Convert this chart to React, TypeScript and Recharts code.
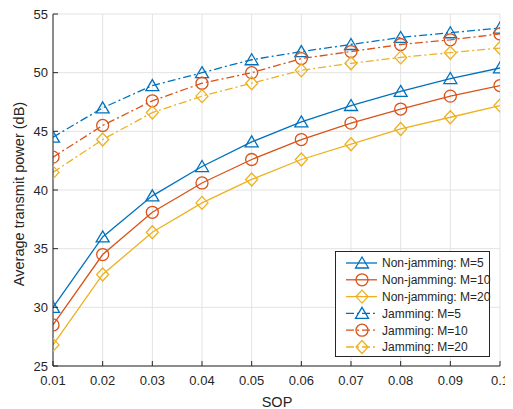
import { LineChart, Line, XAxis, YAxis, CartesianGrid, Label } from 'recharts';

const sop = [0.01, 0.02, 0.03, 0.04, 0.05, 0.06, 0.07, 0.08, 0.09, 0.1];
const xTickLabels = ['0.01', '0.02', '0.03', '0.04', '0.05', '0.06', '0.07', '0.08', '0.09', '0.1'];
const yTicks = [25, 30, 35, 40, 45, 50, 55];

const nonJamM5 = [30.0, 36.0, 39.5, 42.0, 44.1, 45.8, 47.2, 48.4, 49.5, 50.4];
const nonJamM10 = [28.5, 34.5, 38.1, 40.6, 42.6, 44.3, 45.7, 46.9, 48.0, 48.9];
const nonJamM20 = [26.8, 32.8, 36.4, 38.9, 40.9, 42.6, 43.9, 45.2, 46.2, 47.2];
const jamM5 = [44.5, 47.0, 48.9, 50.0, 51.1, 51.8, 52.4, 53.0, 53.4, 53.8];
const jamM10 = [42.8, 45.5, 47.6, 49.1, 50.0, 51.2, 51.8, 52.4, 52.8, 53.3];
const jamM20 = [41.5, 44.3, 46.6, 48.0, 49.1, 50.2, 50.8, 51.3, 51.7, 52.1];

const BLUE = '#0072BD';
const RED = '#D95319';
const YELLOW = '#EDB120';
const AXIS = '#262626';
const FONT = '"Liberation Sans", Arial, Helvetica, sans-serif';
const DASHDOT = '8 3 2 3';

const data = sop.map((s, i) => ({
  sop: s,
  nj5: nonJamM5[i],
  nj10: nonJamM10[i],
  nj20: nonJamM20[i],
  j5: jamM5[i],
  j10: jamM10[i],
  j20: jamM20[i],
}));

type Shape = 'tri' | 'circ' | 'dia';

function Marker({ cx, cy, shape, color }: { cx: number; cy: number; shape: Shape; color: string }) {
  if (shape === 'tri') {
    return (
      <polygon
        points={`${cx},${cy - 6} ${cx + 6.5},${cy + 5} ${cx - 6.5},${cy + 5}`}
        fill="none"
        stroke={color}
        strokeWidth={1.3}
      />
    );
  }
  if (shape === 'circ') {
    return <circle cx={cx} cy={cy} r={6} fill="none" stroke={color} strokeWidth={1.3} />;
  }
  return (
    <polygon
      points={`${cx},${cy - 6.5} ${cx + 6},${cy} ${cx},${cy + 6.5} ${cx - 6},${cy}`}
      fill="none"
      stroke={color}
      strokeWidth={1.3}
    />
  );
}

const makeDot = (shape: Shape, color: string) => (props: any) => (
  <Marker key={`${shape}-${color}-${props.index}`} cx={props.cx} cy={props.cy} shape={shape} color={color} />
);

const series = [
  { key: 'nj5', name: 'Non-jamming: M=5', color: BLUE, shape: 'tri' as Shape, dash: undefined },
  { key: 'nj10', name: 'Non-jamming: M=10', color: RED, shape: 'circ' as Shape, dash: undefined },
  { key: 'nj20', name: 'Non-jamming: M=20', color: YELLOW, shape: 'dia' as Shape, dash: undefined },
  { key: 'j5', name: 'Jamming: M=5', color: BLUE, shape: 'tri' as Shape, dash: DASHDOT },
  { key: 'j10', name: 'Jamming: M=10', color: RED, shape: 'circ' as Shape, dash: DASHDOT },
  { key: 'j20', name: 'Jamming: M=20', color: YELLOW, shape: 'dia' as Shape, dash: DASHDOT },
];

const BottomTick = ({ x, y, index }: any) => (
  <g>
    <line x1={x} x2={x} y1={y} y2={y - 5} stroke={AXIS} />
    <text x={x} y={y + 19} textAnchor="middle" fill={AXIS} fontSize={13} fontFamily={FONT}>
      {xTickLabels[index]}
    </text>
  </g>
);

const TopTick = ({ x, y }: any) => <line x1={x} x2={x} y1={y} y2={y + 5} stroke={AXIS} />;

const LeftTick = ({ x, y, payload }: any) => (
  <g>
    <line x1={x} x2={x + 5} y1={y} y2={y} stroke={AXIS} />
    <text x={x - 5} y={y + 4.5} textAnchor="end" fill={AXIS} fontSize={13} fontFamily={FONT}>
      {payload.value}
    </text>
  </g>
);

const RightTick = ({ x, y }: any) => <line x1={x} x2={x - 5} y1={y} y2={y} stroke={AXIS} />;

function LegendBox() {
  return (
    <svg
      width={156}
      height={107}
      style={{ position: 'absolute', left: 327, top: 243 }}
    >
      <rect x={0.5} y={0.5} width={154} height={105} fill="#fff" stroke={AXIS} strokeWidth={1} />
      {series.map((s, i) => {
        const cy = 12 + i * 16.8;
        return (
          <g key={s.key}>
            <line x1={11} x2={42} y1={cy} y2={cy} stroke={s.color} strokeWidth={1.3} strokeDasharray={s.dash} />
            <Marker cx={27} cy={cy} shape={s.shape} color={s.color} />
            <text x={47} y={cy + 4.3} fontSize={12} fill={AXIS} fontFamily={FONT}>
              {s.name}
            </text>
          </g>
        );
      })}
    </svg>
  );
}

export default function App() {
  return (
    <div style={{ position: 'relative', width: 505, height: 401 }}>
      <LineChart width={505} height={401} data={data} margin={{ top: 6, right: 13, left: 5, bottom: 0 }}>
        <CartesianGrid stroke="#e3e3e3" strokeWidth={1} />
        <XAxis
          dataKey="sop"
          type="number"
          domain={[0.01, 0.1]}
          ticks={sop}
          interval={0}
          height={43}
          tickSize={0}
          tickMargin={0}
          tick={<BottomTick />}
          stroke={AXIS}
          allowDataOverflow
        >
          <Label
            content={() => (
              <text x={269} y={399} textAnchor="middle" fill={AXIS} fontSize={14.5} fontFamily={FONT}>
                SOP
              </text>
            )}
          />
        </XAxis>
        <XAxis
          xAxisId="top"
          orientation="top"
          dataKey="sop"
          type="number"
          domain={[0.01, 0.1]}
          ticks={sop}
          interval={0}
          height={0}
          tickSize={0}
          tickMargin={0}
          tick={<TopTick />}
          stroke={AXIS}
          allowDataOverflow
        />
        <YAxis
          type="number"
          domain={[25, 55]}
          ticks={yTicks}
          interval={0}
          width={40}
          tickSize={0}
          tickMargin={0}
          tick={<LeftTick />}
          stroke={AXIS}
          allowDataOverflow
        >
          <Label
            content={() => (
              <text
                transform="translate(16, 186) rotate(-90)"
                textAnchor="middle"
                fill={AXIS}
                fontSize={14.5}
                fontFamily={FONT}
              >
                Average transmit power (dB)
              </text>
            )}
          />
        </YAxis>
        <YAxis
          yAxisId="right"
          orientation="right"
          type="number"
          domain={[25, 55]}
          ticks={yTicks}
          interval={0}
          width={0}
          tickSize={0}
          tickMargin={0}
          tick={<RightTick />}
          stroke={AXIS}
          allowDataOverflow
        />
        {series.map((s) => (
          <Line
            key={s.key}
            dataKey={s.key}
            name={s.name}
            type="linear"
            stroke={s.color}
            strokeWidth={1.3}
            strokeDasharray={s.dash}
            dot={makeDot(s.shape, s.color)}
            activeDot={false}
            isAnimationActive={false}
          />
        ))}
      </LineChart>
      <LegendBox />
    </div>
  );
}
